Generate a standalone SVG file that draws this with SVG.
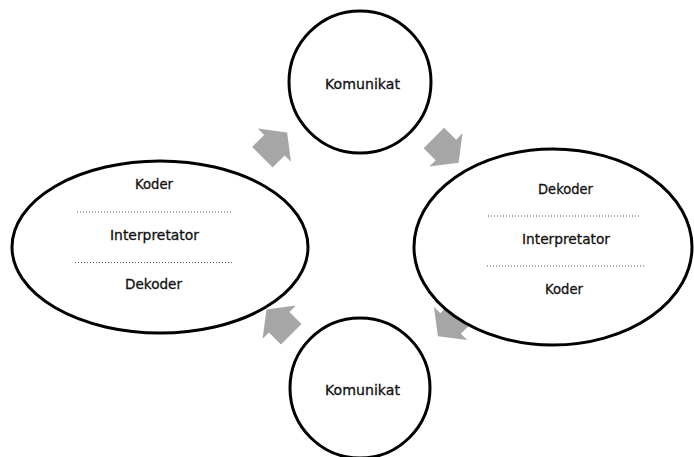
<svg xmlns="http://www.w3.org/2000/svg" width="694" height="457" viewBox="0 0 694 457">
  <style>
    .node { fill: #ffffff; stroke: #000000; stroke-width: 3; }
    .label { font-family: "DejaVu Sans", "Liberation Sans", sans-serif; font-size: 14px; fill: #111111; stroke: #111111; stroke-width: 0.3; text-anchor: middle; }
    .sep { stroke: #555555; stroke-width: 1; stroke-dasharray: 1 2; }
    .flow { fill: #a6a6a6; }
  </style>
  <defs>
    <!-- block arrow pointing along +x, rotated into place -->
    <path id="blockArrow" d="M18,0 L0,23.5 L0,14.5 L-17,14.5 L-17,-14.5 L0,-14.5 L0,-23.5 Z"/>
  </defs>
  <rect width="694" height="457" fill="#ffffff"/>

  <g id="connectors">
    <use href="#blockArrow" class="flow" transform="translate(274.4,145.2) rotate(-45)"/>
    <use href="#blockArrow" class="flow" transform="translate(445.9,149.9) rotate(45)"/>
    <use href="#blockArrow" class="flow" transform="translate(450.6,323.4) rotate(135)"/>
    <use href="#blockArrow" class="flow" transform="translate(279.2,322.2) rotate(-135)"/>
  </g>

  <g id="komunikat-top">
    <circle class="node" cx="360" cy="82" r="71"/>
    <text class="label" x="362.5" y="89" textLength="75" lengthAdjust="spacingAndGlyphs">Komunikat</text>
  </g>

  <g id="komunikat-bottom">
    <circle class="node" cx="360" cy="388" r="70"/>
    <text class="label" x="362.5" y="395" textLength="75" lengthAdjust="spacingAndGlyphs">Komunikat</text>
  </g>

  <g id="sender">
    <ellipse class="node" cx="160" cy="247" rx="148" ry="86"/>
    <text class="label" x="154" y="189" textLength="38" lengthAdjust="spacingAndGlyphs">Koder</text>
    <line class="sep" x1="77" y1="212" x2="231" y2="212"/>
    <text class="label" x="154.5" y="239.5" textLength="89" lengthAdjust="spacingAndGlyphs">Interpretator</text>
    <line class="sep" x1="75" y1="262.5" x2="234" y2="262.5"/>
    <text class="label" x="153.5" y="289" textLength="57" lengthAdjust="spacingAndGlyphs">Dekoder</text>
  </g>

  <g id="receiver">
    <ellipse class="node" cx="553" cy="247" rx="139" ry="98"/>
    <text class="label" x="565.5" y="194" textLength="55" lengthAdjust="spacingAndGlyphs">Dekoder</text>
    <line class="sep" x1="488" y1="216" x2="640" y2="216"/>
    <text class="label" x="566" y="244" textLength="88" lengthAdjust="spacingAndGlyphs">Interpretator</text>
    <line class="sep" x1="487" y1="266" x2="645" y2="266"/>
    <text class="label" x="564" y="294" textLength="38" lengthAdjust="spacingAndGlyphs">Koder</text>
  </g>
</svg>
